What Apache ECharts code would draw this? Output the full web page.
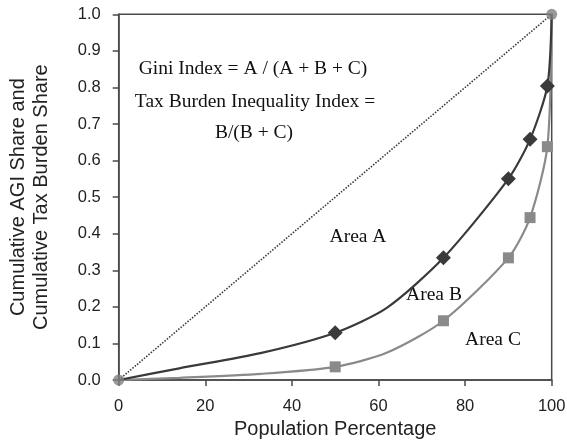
<!DOCTYPE html>
<html>
<head>
<meta charset="utf-8">
<script src="https://cdn.jsdelivr.net/npm/echarts@6/dist/echarts.min.js"></script>
<style>html,body{margin:0;padding:0;background:#fff}#c{width:567px;height:442px}</style>
</head>
<body>
<div id="c"></div>
<script>
var popPct = [0, 14, 33, 50, 62, 75, 90, 95, 99, 100];
var agiShare = [0, 0.032, 0.074, 0.129, 0.198, 0.334, 0.55, 0.658, 0.804, 1.0];
var taxShare = [0, 0.006, 0.017, 0.036, 0.075, 0.162, 0.334, 0.444, 0.638, 1.0];
var markedPct = [50, 75, 90, 95, 99];
var equalityX = [0, 100];
var equalityY = [0, 1.0];
var xTicks = [0, 20, 40, 60, 80, 100];
var yTicks = [0, 0.1, 0.2, 0.3, 0.4, 0.5, 0.6, 0.7, 0.8, 0.9, 1.0];

function build(ys) {
  return popPct.map(function (x, i) {
    var item = { value: [x, ys[i]] };
    if (markedPct.indexOf(x) < 0) item.symbol = 'none';
    return item;
  });
}

var chart = echarts.init(document.getElementById('c'), null, { renderer: 'canvas' });
var serif = '"Liberation Serif", "Times New Roman", serif';
var sans = '"Liberation Sans", Arial, sans-serif';
chart.setOption({
  animation: false,
  grid: { left: 118.7, right: 15.3, top: 14.3, bottom: 62, show: true, borderColor: '#4a4a4a', borderWidth: 1.5, containLabel: false, outerBoundsMode: 'none' },
  xAxis: {
    type: 'value', min: xTicks[0], max: xTicks[xTicks.length - 1], interval: 20,
    name: 'Population Percentage', nameLocation: 'middle', nameGap: 39,
    nameTextStyle: { fontFamily: sans, fontSize: 20, color: '#222' },
    axisLine: { show: true, lineStyle: { color: '#4a4a4a', width: 1.5 } },
    axisTick: { show: true, length: 6, lineStyle: { color: '#4a4a4a', width: 1.5 } },
    axisLabel: { fontFamily: sans, fontSize: 16.5, color: '#222', margin: 18 },
    splitLine: { show: false }
  },
  yAxis: {
    type: 'value', min: yTicks[0], max: yTicks[yTicks.length - 1], interval: 0.1,
    name: 'Cumulative AGI Share and\nCumulative Tax Burden Share', nameLocation: 'middle', nameGap: 66,
    nameTextStyle: { fontFamily: sans, fontSize: 20, color: '#222', lineHeight: 23 },
    axisLine: { show: true, lineStyle: { color: '#4a4a4a', width: 1.5 } },
    axisTick: { show: true, length: 6, lineStyle: { color: '#4a4a4a', width: 1.5 } },
    axisLabel: { fontFamily: sans, fontSize: 16.5, color: '#222', margin: 18,
      formatter: function (v) { return v.toFixed(1); } },
    splitLine: { show: false }
  },
  series: [
    {
      type: 'line', name: 'Equality',
      data: equalityX.map(function (x, i) { return [x, equalityY[i]]; }),
      lineStyle: { color: '#3a3a3a', width: 1.6, type: [1.5, 1.5] },
      symbol: 'none', z: 2
    },
    {
      type: 'line', name: 'Tax',
      data: build(taxShare),
      smooth: 0.25,
      lineStyle: { color: '#8a8a8a', width: 2.2 },
      itemStyle: { color: '#8a8a8a' },
      symbol: 'rect', symbolSize: 11, z: 3
    },
    {
      type: 'line', name: 'AGI',
      data: build(agiShare),
      smooth: 0.25,
      lineStyle: { color: '#3a3a3a', width: 2.2 },
      itemStyle: { color: '#3a3a3a' },
      symbol: 'diamond', symbolSize: 15, z: 4
    },
    {
      type: 'scatter', name: 'Ends',
      data: equalityX.map(function (x, i) { return [x, equalityY[i]]; }),
      symbol: 'circle', symbolSize: 11,
      itemStyle: { color: '#808080' }, z: 5
    }
  ],
  graphic: [
    { type: 'text', x: 253, y: 69, style: { text: 'Gini Index = A / (A + B + C)', font: '19.5px ' + serif, fill: '#111', align: 'center', verticalAlign: 'middle' } },
    { type: 'text', x: 255, y: 102, style: { text: 'Tax Burden Inequality Index =', font: '19.5px ' + serif, fill: '#111', align: 'center', verticalAlign: 'middle' } },
    { type: 'text', x: 254, y: 133, style: { text: 'B/(B + C)', font: '19.5px ' + serif, fill: '#111', align: 'center', verticalAlign: 'middle' } },
    { type: 'text', x: 358, y: 237, style: { text: 'Area A', font: '19.5px ' + serif, fill: '#111', align: 'center', verticalAlign: 'middle' } },
    { type: 'text', x: 434, y: 295, style: { text: 'Area B', font: '19.5px ' + serif, fill: '#111', align: 'center', verticalAlign: 'middle' } },
    { type: 'text', x: 493, y: 340, style: { text: 'Area C', font: '19.5px ' + serif, fill: '#111', align: 'center', verticalAlign: 'middle' } }
  ]
});
</script>
</body>
</html>
